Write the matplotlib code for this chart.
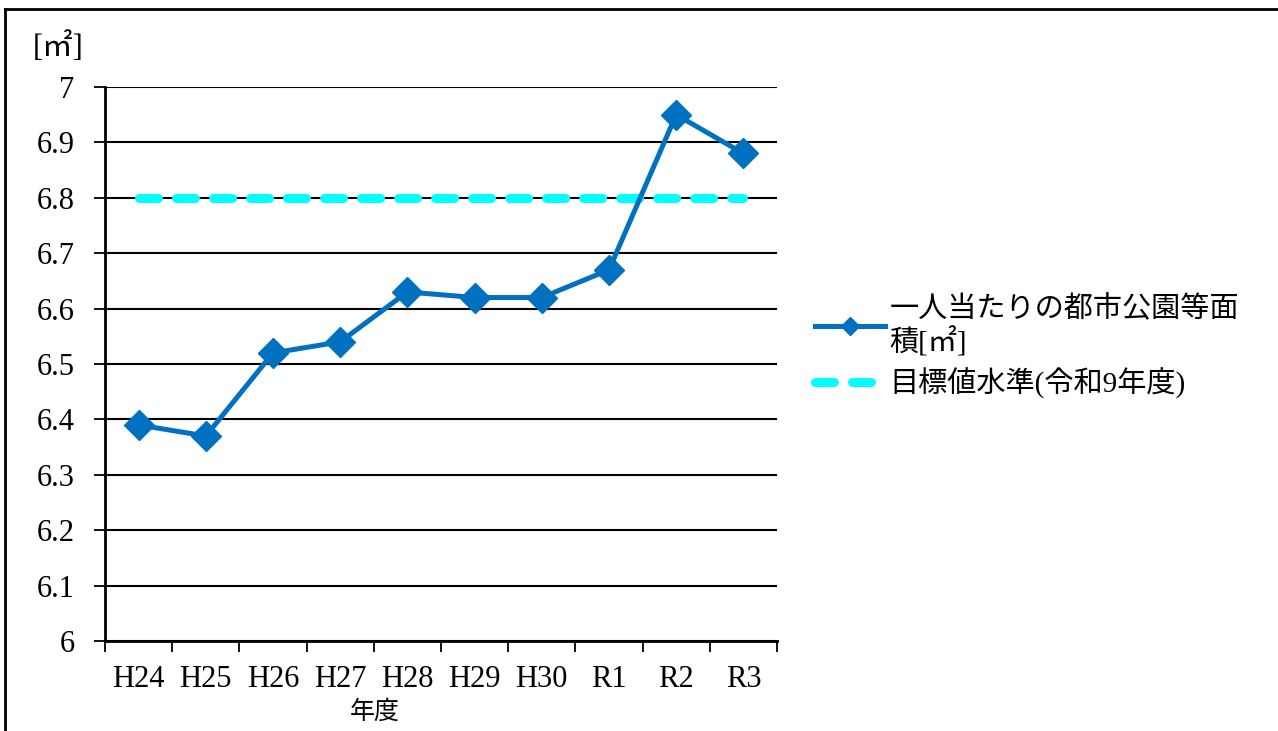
import matplotlib.pyplot as plt
from matplotlib.lines import Line2D

plt.rcParams['font.family'] = ['Liberation Serif', 'Noto Sans CJK JP']

# per-capita urban park area by fiscal year
years = ['H24', 'H25', 'H26', 'H27', 'H28', 'H29', 'H30', 'R1', 'R2', 'R3']
area = [6.39, 6.37, 6.52, 6.54, 6.63, 6.62, 6.62, 6.67, 6.95, 6.88]
target = [6.8] * len(years)
yticks = [6, 6.1, 6.2, 6.3, 6.4, 6.5, 6.6, 6.7, 6.8, 6.9, 7]
ytick_labels = ['6', '6.1', '6.2', '6.3', '6.4', '6.5', '6.6', '6.7', '6.8', '6.9', '7']

W, H = 1278, 731
fig = plt.figure(figsize=(W / 100, H / 100), dpi=100)
ax = fig.add_axes([105 / W, 1 - 641 / H, (777 - 105) / W, (641 - 87) / H])

x = list(range(len(years)))
ax.plot(x, target, color='#00FFFF', lw=6.5, dashes=(2.1, 2.0),
        dash_capstyle='round', label='目標値水準(令和9年度)', zorder=3)
ax.plot(x, area, color='#0070C0', lw=3.6, marker='D', markersize=15,
        label='一人当たりの都市公園等面\n積[㎡]', zorder=4)

ax.set_xlim(-0.5, len(years) - 0.5)
ax.set_ylim(6, 7)
ax.set_yticks(yticks)
ax.set_yticklabels(ytick_labels, fontsize=22)
ax.set_xticks([i - 0.5 for i in range(len(years) + 1)], minor=False)
ax.set_xticklabels([])
ax.set_xticks(x, minor=True)
ax.set_xticklabels(years, minor=True, fontsize=22)
ax.tick_params(axis='x', which='major', length=8, width=1.3, direction='out')
ax.tick_params(axis='x', which='minor', length=0, pad=17)
ax.tick_params(axis='y', length=8, width=1.3, pad=14)
ax.grid(axis='y', color='black', lw=1.5, zorder=1)
for s in ['top', 'right']:
    ax.spines[s].set_visible(False)
ax.spines['left'].set_linewidth(2)
ax.spines['bottom'].set_linewidth(2)

fig.text(375 / W, 1 - 712 / H, '年度', fontsize=18, ha='center', va='center')
fig.text(33 / W, 1 - 48 / H, '[㎡]', fontsize=22, va='center', ha='left')

handles, labels = ax.get_legend_handles_labels()
leg = fig.legend(handles[::-1], labels[::-1], loc='upper left',
                 bbox_to_anchor=(789 / W, 1 - 268 / H), frameon=False,
                 fontsize=21, handlelength=2.4, handletextpad=0.15,
                 labelspacing=0.35, markerscale=0.6)

# outer frame (top and left edges)
fig.add_artist(Line2D([5 / W, 1], [1 - 9 / H, 1 - 9 / H], color='black', lw=2))
fig.add_artist(Line2D([5 / W, 5 / W], [0, 1 - 9 / H], color='black', lw=2))

fig.savefig('out.png', dpi=100)
